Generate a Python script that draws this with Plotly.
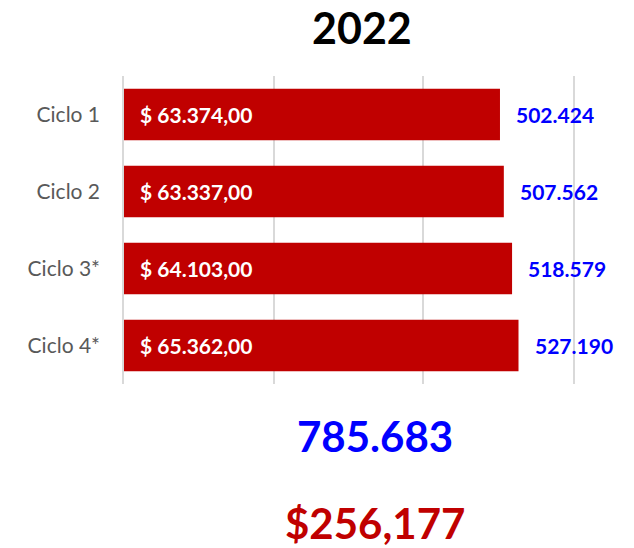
import plotly.graph_objects as go

title_text = "2022"
categories = ["Ciclo 1", "Ciclo 2", "Ciclo 3*", "Ciclo 4*"]
volumes = [502424, 507562, 518579, 527190]
amounts = [63374.00, 63337.00, 64103.00, 65362.00]
total_volume = 785683
total_amount = 256177
x_ticks = [0, 200000, 400000, 600000]

RED = "#C00000"
BLUE = "#0000FF"
FONT = "Lato"
GRID = "#D9D9D9"


def fmt_int_dot(v):
    return f"{int(round(v)):,}".replace(",", ".")


def fmt_money_eu(v):
    s = f"{v:,.2f}"
    s = s.replace(",", "X").replace(".", ",").replace("X", ".")
    return "$ " + s


fig = go.Figure()
fig.add_trace(go.Bar(
    y=categories,
    x=volumes,
    orientation="h",
    marker=dict(color=RED, line=dict(width=0)),
    width=0.67,
    hoverinfo="skip",
))

annotations = []
for c, v, a in zip(categories, volumes, amounts):
    annotations.append(dict(
        x=0, y=c, xref="x", yref="y", text=fmt_money_eu(a),
        showarrow=False, xanchor="left", yanchor="middle", xshift=14,
        font=dict(family=FONT, size=21, color="white", weight="bold"),
    ))
    annotations.append(dict(
        x=v, y=c, xref="x", yref="y", text=fmt_int_dot(v),
        showarrow=False, xanchor="left", yanchor="middle", xshift=14,
        font=dict(family=FONT, size=21, color=BLUE, weight="bold"),
    ))

annotations.append(dict(
    x=0.531, y=1.159, xref="paper", yref="paper", text=title_text,
    showarrow=False, xanchor="center", yanchor="middle",
    font=dict(family=FONT, size=43, color="black", weight="bold"),
))
annotations.append(dict(
    x=0.560, y=-0.170, xref="paper", yref="paper", text=fmt_int_dot(total_volume),
    showarrow=False, xanchor="center", yanchor="middle",
    font=dict(family=FONT, size=42, color=BLUE, weight="bold"),
))
annotations.append(dict(
    x=0.558, y=-0.452, xref="paper", yref="paper", text=f"${total_amount:,}",
    showarrow=False, xanchor="center", yanchor="middle",
    font=dict(family=FONT, size=42, color=RED, weight="bold"),
))

fig.update_layout(
    width=634, height=548,
    margin=dict(l=124, r=61, t=76, b=164, pad=0),
    paper_bgcolor="white", plot_bgcolor="white",
    showlegend=False,
    bargap=0.33,
    annotations=annotations,
    xaxis=dict(
        range=[0, 600000], tickvals=x_ticks, showticklabels=False,
        showgrid=True, gridcolor=GRID, gridwidth=1.5,
        zeroline=False, showline=False, fixedrange=True,
    ),
    yaxis=dict(
        autorange="reversed", showgrid=False, zeroline=False,
        showline=True, mirror=True, linecolor=GRID, linewidth=1.5,
        ticks="", ticklabelstandoff=18, fixedrange=True,
        tickfont=dict(family=FONT, size=21, color="#595959"),
    ),
)

fig.write_html(
    "out.html",
    config={"displayModeBar": False},
    post_script="document.body.style.margin='0';document.body.style.overflow='hidden';",
)
